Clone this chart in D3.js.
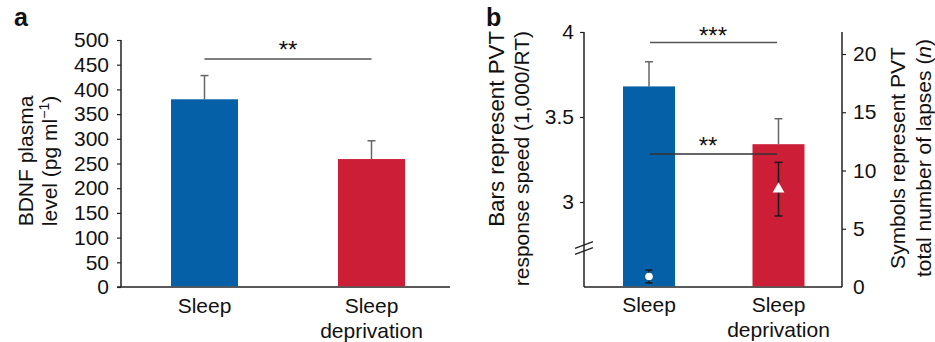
<!DOCTYPE html>
<html>
<head>
<meta charset="utf-8">
<script src="https://cdn.jsdelivr.net/npm/d3@7"></script>
<style>
  body { margin: 0; background: #fff; }
  svg { display: block; font-family: "Liberation Sans", Arial, sans-serif; }
</style>
</head>
<body>
<svg id="chart" width="935" height="342"></svg>
<script>
// ---- data ----
const categories = ["Sleep", "Sleep deprivation"];
const bdnfValues = [380, 259];
const bdnfErrors = [48, 37];
const bdnfTicks = [0, 50, 100, 150, 200, 250, 300, 350, 400, 450, 500];
const speedValues = [3.68, 3.34];
const speedErrors = [0.145, 0.15];
const speedTicks = [3, 3.5, 4];
const lapseValues = [0.9, 8.4];
const lapseErrors = [0.55, 2.3];
const lapseTicks = [0, 5, 10, 15, 20];
const colors = ["#0560a8", "#cc1e36"];

const svg = d3.select("#chart");
const FS = 21;
const axisColor = "#222";

function catLines(g, x, y0) {
  categories.forEach((c, i) => {
    const words = c === "Sleep deprivation" ? ["Sleep", "deprivation"] : [c];
    words.forEach((w, j) => {
      g.append("text").attr("x", x(c)).attr("y", y0 + j * 25)
        .attr("text-anchor", "middle").attr("font-size", FS).attr("fill", "#111").text(w);
    });
  });
}

// ================= Panel a =================
{
  const g = svg.append("g");
  const x = d3.scalePoint().domain(categories).range([204.5, 371.5]);
  const y = d3.scaleLinear().domain([0, 500]).range([287, 40]);
  const bw = 67;

  const ax = d3.axisLeft(y).tickValues(bdnfTicks).tickSize(4).tickPadding(8);
  const ag = g.append("g").attr("transform", "translate(121,0)").call(ax);
  ag.select(".domain").attr("stroke", axisColor).attr("stroke-width", 1.5).attr("d", "M0,40V287");
  ag.selectAll(".tick line").attr("stroke", axisColor).attr("stroke-width", 1.2);
  ag.selectAll(".tick text").attr("font-size", FS).attr("fill", "#111").attr("font-family", "Liberation Sans, Arial, sans-serif");

  // x axis line
  g.append("line").attr("x1", 117).attr("x2", 450).attr("y1", y(0)).attr("y2", y(0))
    .attr("stroke", axisColor).attr("stroke-width", 1.5);

  // error bars (upper only)
  categories.forEach((c, i) => {
    const cx = x(c);
    g.append("line").attr("x1", cx).attr("x2", cx).attr("y1", y(bdnfValues[i])).attr("y2", y(bdnfValues[i] + bdnfErrors[i]))
      .attr("stroke", "#666").attr("stroke-width", 1.5);
    g.append("line").attr("x1", cx - 4).attr("x2", cx + 4).attr("y1", y(bdnfValues[i] + bdnfErrors[i])).attr("y2", y(bdnfValues[i] + bdnfErrors[i]))
      .attr("stroke", "#666").attr("stroke-width", 1.5);
  });

  g.selectAll("rect.bar").data(categories).enter().append("rect")
    .attr("x", d => x(d) - bw / 2).attr("width", bw)
    .attr("y", (d, i) => y(bdnfValues[i])).attr("height", (d, i) => y(0) - y(bdnfValues[i]) - 0.75)
    .attr("fill", (d, i) => colors[i]);

  // significance
  g.append("line").attr("x1", x(categories[0])).attr("x2", x(categories[1])).attr("y1", 59).attr("y2", 59)
    .attr("stroke", "#555").attr("stroke-width", 1.3);
  g.append("text").attr("x", (x(categories[0]) + x(categories[1])) / 2).attr("y", 58)
    .attr("text-anchor", "middle").attr("font-size", 24).attr("fill", "#111").text("**");

  catLines(g, x, 313);

  // y label
  const yl = g.append("text").attr("transform", "translate(33,161) rotate(-90)")
    .attr("text-anchor", "middle").attr("font-size", FS).attr("fill", "#111");
  yl.append("tspan").attr("x", 0).attr("y", 0).text("BDNF plasma");
  yl.append("tspan").attr("x", 0).attr("y", 24).text("level (pg ml");
  yl.append("tspan").attr("baseline-shift", "super").attr("font-size", 14).text("\u22121");
  yl.append("tspan").text(")");

  g.append("text").attr("x", 14).attr("y", 26).attr("font-size", 25).attr("font-weight", "bold").attr("fill", "#111").text("a");
}

// ================= Panel b =================
{
  const g = svg.append("g");
  const x = d3.scalePoint().domain(categories).range([649, 778.5]);
  const yL = d3.scaleLinear().domain([2.5, 4]).range([287, 32]);
  const yR = d3.scaleLinear().domain([0, 20]).range([287, 54]);
  const bw = 52;
  const axL = 584, axR = 842;

  const al = d3.axisLeft(yL).tickValues(speedTicks).tickFormat(d3.format("")).tickSize(4).tickPadding(6);
  const alg = g.append("g").attr("transform", `translate(${axL},0)`).call(al);
  alg.select(".domain").remove();
  alg.selectAll(".tick line").attr("stroke", axisColor).attr("stroke-width", 1.2);
  alg.selectAll(".tick text").attr("font-size", FS).attr("fill", "#111").attr("font-family", "Liberation Sans, Arial, sans-serif");
  g.append("line").attr("x1", axL).attr("x2", axL).attr("y1", yL(4)).attr("y2", yL(2.5))
    .attr("stroke", axisColor).attr("stroke-width", 1.5);
  // axis break marks
  [0, 6].forEach(o => {
    g.append("line").attr("x1", axL - 9).attr("y1", 248.3 + o).attr("x2", axL + 9).attr("y2", 241.7 + o)
      .attr("stroke", axisColor).attr("stroke-width", 1.3);
  });

  const ar = d3.axisRight(yR).tickValues(lapseTicks).tickSize(4).tickPadding(7);
  const arg = g.append("g").attr("transform", `translate(${axR},0)`).call(ar);
  arg.select(".domain").remove();
  arg.selectAll(".tick line").attr("stroke", axisColor).attr("stroke-width", 1.2).attr("x2", d => d === 0 ? 0 : 4);
  arg.selectAll(".tick text").attr("font-size", FS).attr("fill", "#111").attr("font-family", "Liberation Sans, Arial, sans-serif");
  g.append("line").attr("x1", axR).attr("x2", axR).attr("y1", 32).attr("y2", yR(0))
    .attr("stroke", axisColor).attr("stroke-width", 1.5);

  g.append("line").attr("x1", axL).attr("x2", axR).attr("y1", yL(2.5)).attr("y2", yL(2.5))
    .attr("stroke", axisColor).attr("stroke-width", 1.5);

  // bar error bars
  categories.forEach((c, i) => {
    const cx = x(c), top = yL(speedValues[i] + speedErrors[i]);
    g.append("line").attr("x1", cx).attr("x2", cx).attr("y1", yL(speedValues[i])).attr("y2", top)
      .attr("stroke", "#666").attr("stroke-width", 1.5);
    g.append("line").attr("x1", cx - 4).attr("x2", cx + 4).attr("y1", top).attr("y2", top)
      .attr("stroke", "#666").attr("stroke-width", 1.5);
  });

  g.selectAll("rect.bar").data(categories).enter().append("rect")
    .attr("x", d => x(d) - bw / 2).attr("width", bw)
    .attr("y", (d, i) => yL(speedValues[i])).attr("height", (d, i) => yL(2.5) - yL(speedValues[i]) - 0.75)
    .attr("fill", (d, i) => colors[i]);

  // significance lines
  g.append("line").attr("x1", 650).attr("x2", 777).attr("y1", 42.5).attr("y2", 42.5)
    .attr("stroke", "#555").attr("stroke-width", 1.3);
  g.append("text").attr("x", 713).attr("y", 44).attr("text-anchor", "middle").attr("font-size", 24).attr("fill", "#111").text("***");
  g.append("line").attr("x1", 650).attr("x2", 777).attr("y1", 154).attr("y2", 154)
    .attr("stroke", "#333").attr("stroke-width", 1.3);
  g.append("text").attr("x", 708).attr("y", 154).attr("text-anchor", "middle").attr("font-size", 24).attr("fill", "#111").text("**");

  // symbols with error bars
  categories.forEach((c, i) => {
    const cx = x(c);
    const lo = yR(lapseValues[i] - lapseErrors[i]), hi = yR(lapseValues[i] + lapseErrors[i]);
    const cw = i === 0 ? 3.5 : 4;
    g.append("line").attr("x1", cx).attr("x2", cx).attr("y1", lo).attr("y2", hi).attr("stroke", "#1a1a1a").attr("stroke-width", 1.5);
    [lo, hi].forEach(yy => g.append("line").attr("x1", cx - cw).attr("x2", cx + cw).attr("y1", yy).attr("y2", yy)
      .attr("stroke", "#1a1a1a").attr("stroke-width", 1.5));
    const sym = d3.symbol().type(i === 0 ? d3.symbolCircle : d3.symbolTriangle).size(i === 0 ? 45 : 60);
    g.append("path").attr("d", sym()).attr("transform", `translate(${cx},${yR(lapseValues[i])})`)
      .attr("fill", "#fff");
  });

  catLines(g, x, 312);

  // left y label
  const yl = g.append("text").attr("transform", "translate(504,31) rotate(-90)")
    .attr("text-anchor", "end").attr("font-size", FS).attr("fill", "#111");
  yl.append("tspan").attr("x", 0).attr("y", 0).attr("font-size", 22.3).text("Bars represent PVT");
  yl.append("tspan").attr("x", 0).attr("y", 25).text("response speed (1,000/RT)");

  // right y label
  const yr = g.append("text").attr("transform", "translate(905,158) rotate(-90)")
    .attr("text-anchor", "middle").attr("font-size", FS).attr("fill", "#111");
  yr.append("tspan").attr("x", 0).attr("y", 0).text("Symbols represent PVT");
  yr.append("tspan").attr("x", 0).attr("y", 26).text("total number of lapses (");
  yr.append("tspan").attr("font-style", "italic").text("n");
  yr.append("tspan").text(")");

  g.append("text").attr("x", 486).attr("y", 26).attr("font-size", 25).attr("font-weight", "bold").attr("fill", "#111").text("b");
}
</script>
</body>
</html>
